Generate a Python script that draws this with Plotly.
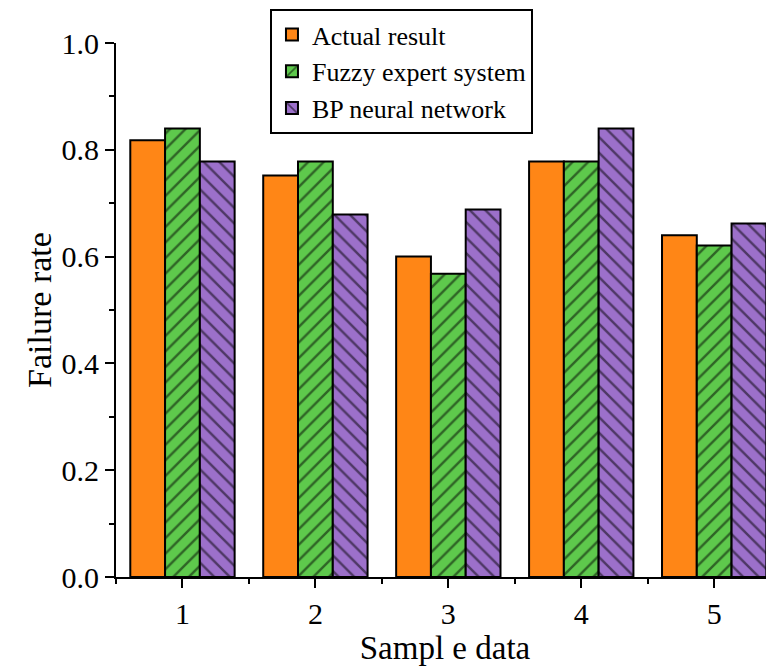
import plotly.graph_objects as go

samples = [1, 2, 3, 4, 5]
actual = [0.818, 0.752, 0.600, 0.778, 0.640]
fuzzy = [0.840, 0.778, 0.568, 0.778, 0.621]
bpnn = [0.778, 0.679, 0.688, 0.840, 0.662]
series_names = ["Actual result", "Fuzzy expert system", "BP neural network"]
y_ticks = [0.0, 0.2, 0.4, 0.6, 0.8, 1.0]

FONT = "Liberation Serif, Times New Roman, serif"

fig = go.Figure()
fig.add_trace(go.Bar(
    x=samples, y=actual, name=series_names[0],
    marker=dict(color="#FF8616", line=dict(color="black", width=2)),
))
fig.add_trace(go.Bar(
    x=samples, y=fuzzy, name=series_names[1],
    marker=dict(color="#5EC94C", line=dict(color="black", width=2),
                pattern=dict(shape="/", fillmode="overlay", fgcolor="black",
                             size=11, solidity=0.22)),
))
fig.add_trace(go.Bar(
    x=samples, y=bpnn, name=series_names[2],
    marker=dict(color="#9C70CA", line=dict(color="black", width=2),
                pattern=dict(shape="\\", fillmode="overlay", fgcolor="black",
                             size=11, solidity=0.22)),
))

# the page body adds an 8px margin, so the figure is sized/offset to compensate
fig.update_layout(
    width=766, height=661,
    margin=dict(l=108, r=0, t=35, b=92, autoexpand=False),
    paper_bgcolor="white", plot_bgcolor="white",
    barmode="group", bargap=0.215, bargroupgap=0,
    font=dict(family=FONT, color="black", size=30),
    showlegend=True,
    legend=dict(
        x=0.234, y=1.0637, xanchor="left", yanchor="top",
        bgcolor="white", bordercolor="black", borderwidth=2,
        font=dict(family=FONT, size=26, color="black"),
        tracegroupgap=0, itemwidth=30,
    ),
    xaxis=dict(
        range=[0.5, 5.45], tickmode="array", tickvals=samples,
        ticktext=[str(s) for s in samples],
        showline=True, linecolor="black", linewidth=2,
        ticks="outside", ticklen=9, tickwidth=2, tickcolor="black",
        minor=dict(ticks="outside", ticklen=5, tickwidth=2, tickcolor="black", dtick=0.5, tick0=0.5),
        showgrid=False, zeroline=False, automargin=False,
        tickfont=dict(family=FONT, size=30),
        title=dict(text="Sampl e data", font=dict(family=FONT, size=33), standoff=4),
    ),
    yaxis=dict(
        range=[0, 1.0], tickmode="array", tickvals=y_ticks,
        ticktext=[f"{v:.1f}" for v in y_ticks],
        showline=True, linecolor="black", linewidth=2,
        ticks="outside", ticklen=9, tickwidth=2, tickcolor="black",
        minor=dict(ticks="outside", ticklen=5, tickwidth=2, tickcolor="black", dtick=0.1, tick0=0),
        showgrid=False, zeroline=False, automargin=False,
        tickfont=dict(family=FONT, size=30),
        title=dict(text="Failure rate", font=dict(family=FONT, size=34), standoff=0),
    ),
)

fig.write_html("out.html")
